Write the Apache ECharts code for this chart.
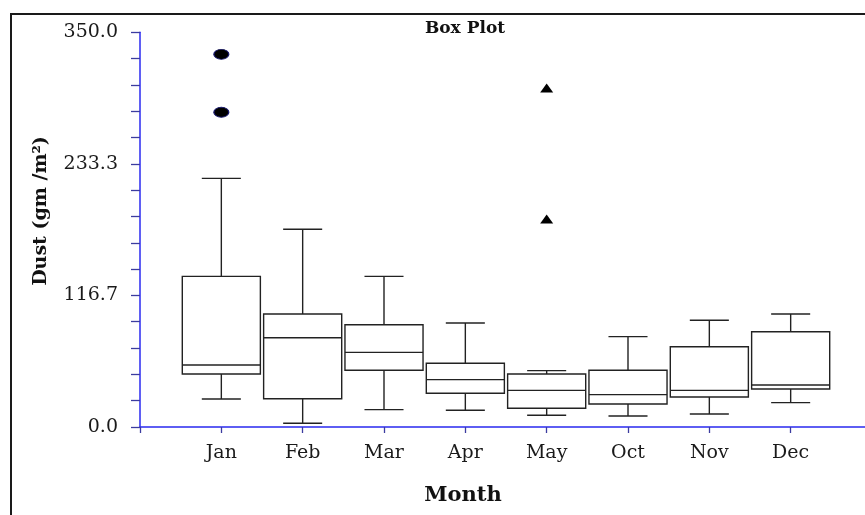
<!DOCTYPE html>
<html>
<head>
<meta charset="utf-8">
<script src="https://cdn.jsdelivr.net/npm/echarts@6/dist/echarts.min.js"></script>
<style>html,body{margin:0;padding:0;background:#fff;}#c{width:865px;height:515px;}</style>
</head>
<body>
<div id="c"></div>
<script>
var months = ['Jan', 'Feb', 'Mar', 'Apr', 'May', 'Oct', 'Nov', 'Dec'];
var lowWhisker = [24.8, 3.3, 15.4, 14.8, 10.4, 9.8, 11.5, 21.6];
var q1 = [47.0, 25.1, 50.3, 29.9, 16.6, 20.4, 26.6, 33.7];
var median = [55.0, 79.2, 66.2, 42.0, 32.5, 28.7, 32.5, 37.2];
var q3 = [133.6, 100.2, 90.7, 56.5, 47.0, 50.3, 71.2, 84.5];
var highWhisker = [220.5, 175.3, 133.6, 92.2, 50.0, 80.1, 94.6, 100.2];
var circleOutliers = [['Jan', 330.5], ['Jan', 279.1]];
var triangleOutliers = [['May', 300.5], ['May', 184.5]];
var yTickLabels = ['0.0', '116.7', '233.3', '350.0'];

var xCats = [''].concat(months).concat(['']);
var boxData = months.map(function (m, i) {
  return [m, lowWhisker[i], q1[i], median[i], q3[i], highWhisker[i]];
});

var chart = echarts.init(document.getElementById('c'));
var lineCol = '#222';
var font = 'DejaVu Serif';

chart.setOption({
  animation: false,
  backgroundColor: '#fff',
  grid: { left: 140, right: -7, top: 32.3, bottom: 88, containLabel: false, outerBoundsMode: 'none' },
  xAxis: {
    type: 'category',
    data: xCats,
    boundaryGap: false,
    axisLine: { lineStyle: { color: '#2a2af0', width: 1.5 } },
    axisTick: { length: 6, lineStyle: { color: '#3c3ca0', width: 1.3 }, interval: 0 },
    axisLabel: { interval: 0, margin: 17, fontFamily: font, fontSize: 19, color: '#1a1a1a' },
    splitLine: { show: false }
  },
  yAxis: {
    type: 'value',
    min: 0,
    max: 350,
    interval: 350 / 3,
    axisLine: { show: true, lineStyle: { color: '#2a2af0', width: 1.5 } },
    axisTick: { show: true, length: 9, lineStyle: { color: '#3c3ca0', width: 1.3 } },
    minorTick: { show: true, splitNumber: 5, length: 9, lineStyle: { color: '#3c3ca0', width: 1.3 } },
    axisLabel: {
      margin: 22, fontFamily: font, fontSize: 19, color: '#1a1a1a', padding: [6, 0, 0, 0],
      formatter: function (v) {
        var idx = Math.round(v / (350 / 3));
        return yTickLabels[idx];
      }
    },
    splitLine: { show: false }
  },
  graphic: [
    { type: 'rect', z: -10, shape: { x: 11, y: 14, width: 1000, height: 1000 },
      style: { fill: 'none', stroke: '#1a1a1a', lineWidth: 2 } },
    { type: 'text', x: 465, y: 29, style: { text: 'Box Plot', font: 'bold 17px "DejaVu Serif"', fill: '#111', textAlign: 'center', textVerticalAlign: 'middle' } },
    { type: 'text', x: 463, y: 496, style: { text: 'Month', font: 'bold 21px "DejaVu Serif"', fill: '#111', textAlign: 'center', textVerticalAlign: 'middle' } },
    { type: 'text', x: 41, y: 211, rotation: Math.PI / 2, style: { text: 'Dust (gm /m²)', font: 'bold 19px "DejaVu Serif"', fill: '#111', textAlign: 'center', textVerticalAlign: 'middle' } }
  ],
  series: [
    {
      type: 'custom',
      data: boxData,
      encode: { x: 0, y: [1, 2, 3, 4, 5] },
      renderItem: function (params, api) {
        var c = api.value(0);
        var pLow = api.coord([c, api.value(1)]);
        var pQ1 = api.coord([c, api.value(2)]);
        var pMed = api.coord([c, api.value(3)]);
        var pQ3 = api.coord([c, api.value(4)]);
        var pHigh = api.coord([c, api.value(5)]);
        var bw = api.size([1, 0])[0] * 0.96;
        var hw = bw / 2;
        var cw = bw / 4;
        var x = pMed[0];
        var st = { stroke: lineCol, lineWidth: 1.4, fill: 'none' };
        return {
          type: 'group',
          children: [
            { type: 'rect', shape: { x: x - hw, y: pQ3[1], width: bw, height: pQ1[1] - pQ3[1] }, style: { stroke: lineCol, lineWidth: 1.4, fill: '#fff' } },
            { type: 'line', shape: { x1: x - hw, y1: pMed[1], x2: x + hw, y2: pMed[1] }, style: st },
            { type: 'line', shape: { x1: x, y1: pQ3[1], x2: x, y2: pHigh[1] }, style: st },
            { type: 'line', shape: { x1: x, y1: pQ1[1], x2: x, y2: pLow[1] }, style: st },
            { type: 'line', shape: { x1: x - cw, y1: pHigh[1], x2: x + cw, y2: pHigh[1] }, style: st },
            { type: 'line', shape: { x1: x - cw, y1: pLow[1], x2: x + cw, y2: pLow[1] }, style: st }
          ]
        };
      }
    },
    {
      type: 'scatter',
      data: circleOutliers,
      symbol: 'circle',
      symbolSize: [15, 10],
      itemStyle: { color: '#000', opacity: 1, borderColor: '#1a1a70', borderWidth: 1 }
    },
    {
      type: 'scatter',
      data: triangleOutliers,
      symbol: 'triangle',
      symbolSize: [13, 9],
      itemStyle: { color: '#000', opacity: 1 }
    }
  ]
});
</script>
</body>
</html>
